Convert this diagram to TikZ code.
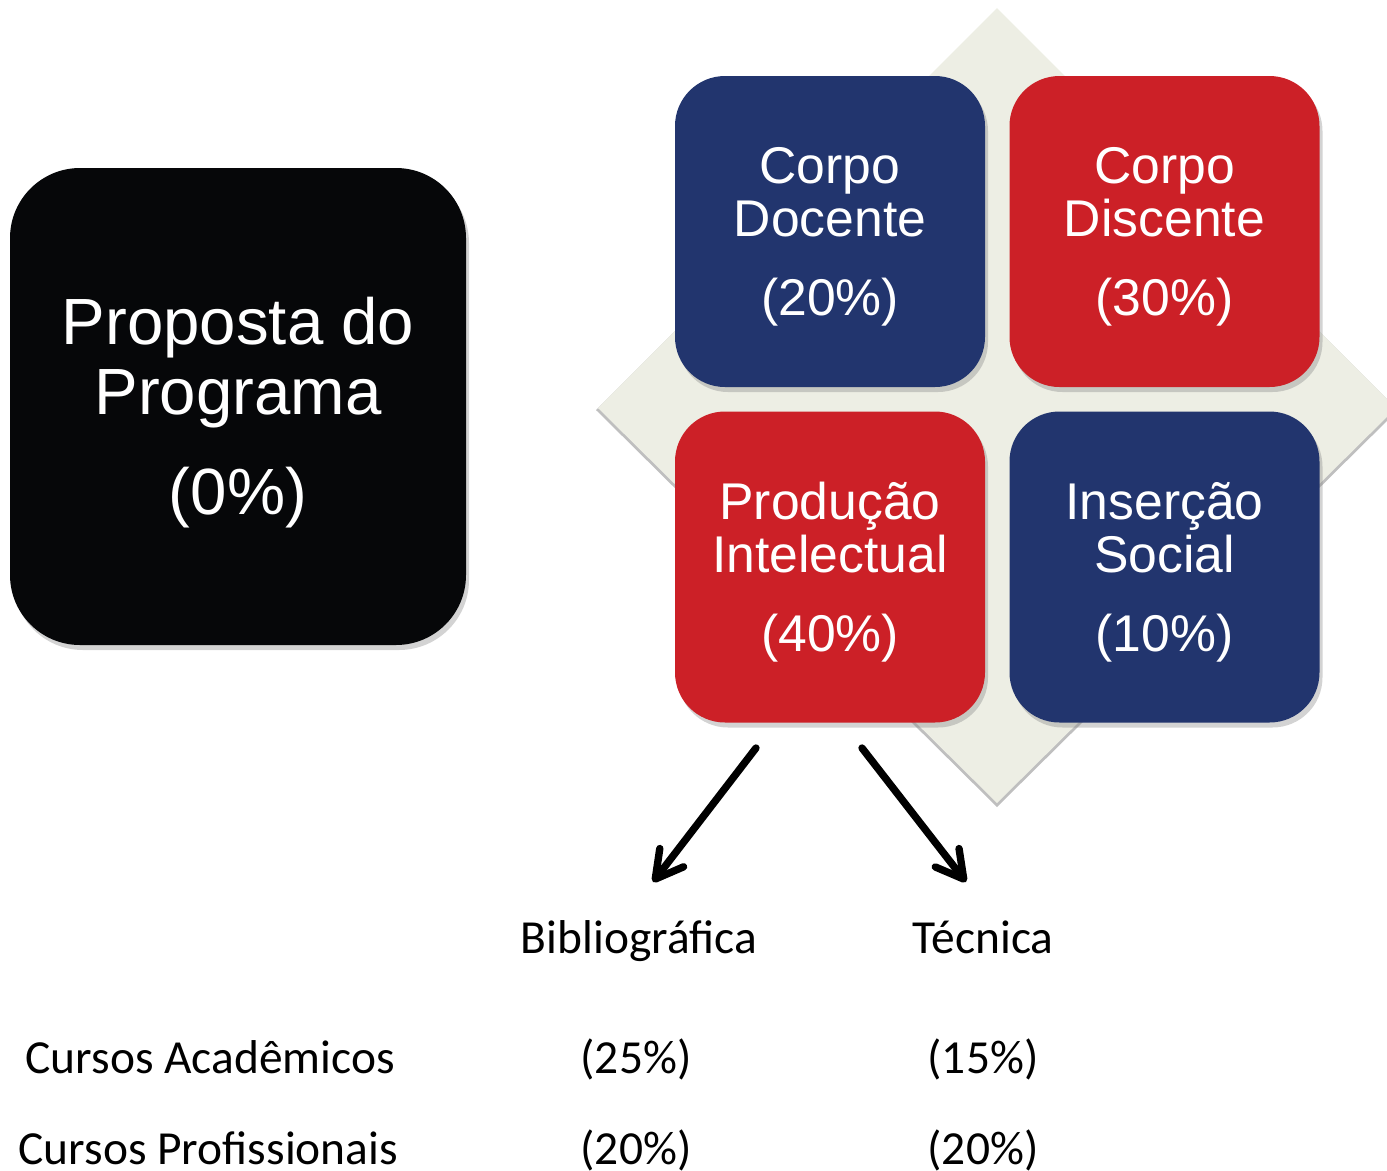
\documentclass[tikz,border=0pt]{standalone}
\usepackage{fontspec}
\setmainfont{Liberation Sans}
\newfontfamily\calib{Carlito}
\usetikzlibrary{arrows.meta,shadows}
\definecolor{capblue}{HTML}{22356E}
\definecolor{capred}{HTML}{CC2027}
\definecolor{capblack}{HTML}{060709}
\definecolor{diamondfill}{HTML}{EDEEE4}
\tikzset{
  tile/.style={rectangle, rounded corners=0.5cm, minimum width=3.1cm, minimum height=3.11cm,
    inner sep=0pt,
    drop shadow={shadow xshift=0.03cm, shadow yshift=-0.05cm, opacity=0.35}},
  tiletext/.style={text=white, align=center, inner sep=0pt,
    font=\fontsize{14.7}{15.1}\selectfont},
  bigbox/.style={rectangle, rounded corners=0.7cm, minimum width=4.56cm, minimum height=4.77cm,
    fill=capblack, inner sep=0pt,
    drop shadow={shadow xshift=0.03cm, shadow yshift=-0.05cm, opacity=0.35}},
  bigtext/.style={text=white, align=center, inner sep=0pt,
    font=\fontsize{18.6}{19.7}\selectfont},
  lbl/.style={font=\calib\fontsize{13.5}{16}\selectfont, inner sep=0pt, anchor=base},
  branch/.style={line width=2.1pt, line cap=round,
    -{Straight Barb[length=0.27cm,width=0.30cm,line width=2.1pt,round]}}
}
\begin{document}
\begin{tikzpicture}
\useasboundingbox (0,0) rectangle (13.87,-11.71);
\begin{scope}
\clip (0,0) rectangle (13.87,-11.71);
% diamond with soft edge shadow
\fill[black!25] (9.97,-0.10) -- (13.98,-4.10) -- (9.97,-8.07) -- (5.96,-4.10) -- cycle;
\fill[diamondfill] (9.97,-0.08) -- (13.96,-4.08) -- (9.97,-8.03) -- (5.98,-4.08) -- cycle;
\end{scope}

\node[bigbox] (prop) at (2.38,-4.065) {};
\node[bigtext] (propt) at ([yshift=-0.065cm]prop.center) {Proposta do\\Programa\\[9pt](0\%)};

\node[tile, fill=capblue] (doc) at (8.30,-2.315) {};
\node[tile, fill=capred] (dis) at (11.645,-2.315) {};
\node[tile, fill=capred] (pi) at (8.30,-5.67) {};
\node[tile, fill=capblue] (ins) at (11.645,-5.67) {};
\node[tiletext] (doct) at ([yshift=-0.05cm]doc.center) {Corpo\\Docente\\[7.4pt](20\%)};
\node[tiletext] (dist) at ([yshift=-0.05cm]dis.center) {Corpo\\Discente\\[7.4pt](30\%)};
\node[tiletext] (pit) at ([yshift=-0.05cm]pi.center) {Produção\\Intelectual\\[7.4pt](40\%)};
\node[tiletext] (inst) at ([yshift=-0.05cm]ins.center) {Inserção\\Social\\[7.4pt](10\%)};

\coordinate (s1) at (7.56,-7.48);
\coordinate (e1) at (6.53,-8.82);
\coordinate (s2) at (8.62,-7.48);
\coordinate (e2) at (9.66,-8.82);
\draw[branch] (s1) -- (e1);
\draw[branch] (s2) -- (e2);

\node[lbl] (bib) at (6.39,-9.53) {Bibliográfica};
\node[lbl] (tec) at (9.83,-9.53) {Técnica};

\node[lbl, anchor=base west] (ca) at (0.25,-10.73) {Cursos Acadêmicos};
\node[lbl] (ca1) at (6.36,-10.73) {(25\%)};
\node[lbl] (ca2) at (9.83,-10.73) {(15\%)};
\node[lbl, anchor=base west] (cp) at (0.18,-11.64) {Cursos Profissionais};
\node[lbl] (cp1) at (6.36,-11.64) {(20\%)};
\node[lbl] (cp2) at (9.83,-11.64) {(20\%)};
\end{tikzpicture}
\end{document}
